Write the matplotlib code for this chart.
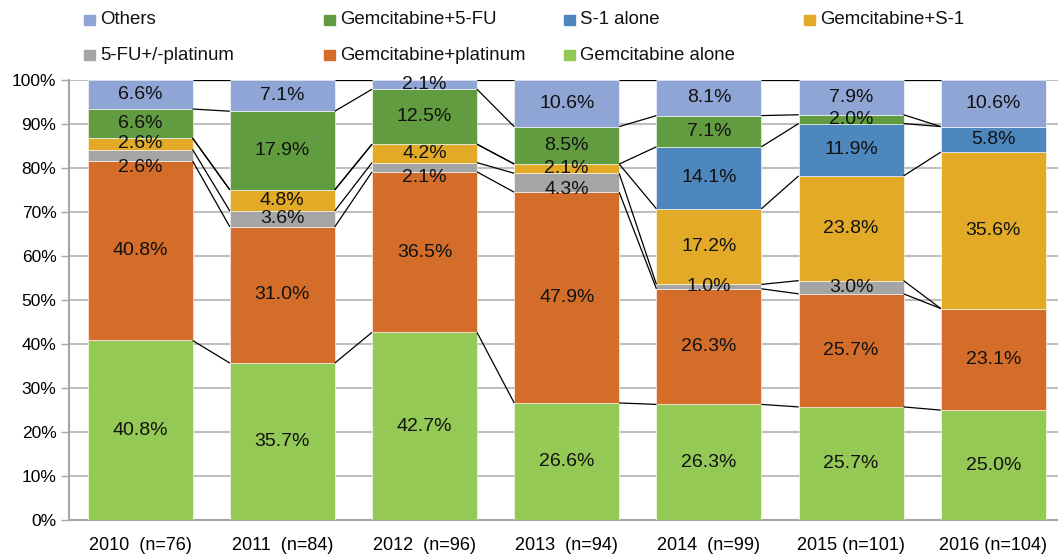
import numpy as np
import matplotlib.pyplot as plt
from matplotlib.patches import Rectangle

years = ['2010  (n=76)', '2011  (n=84)', '2012  (n=96)', '2013  (n=94)',
         '2014  (n=99)', '2015 (n=101)', '2016 (n=104)']

# bottom to top
series = ['Gemcitabine alone', 'Gemcitabine+platinum', '5-FU+/-platinum',
          'Gemcitabine+S-1', 'S-1 alone', 'Gemcitabine+5-FU', 'Others']
gem_alone = [40.8, 35.7, 42.7, 26.6, 26.3, 25.7, 25.0]
gem_plat = [40.8, 31.0, 36.5, 47.9, 26.3, 25.7, 23.1]
fu_plat = [2.6, 3.6, 2.1, 4.3, 1.0, 3.0, 0.0]
gem_s1 = [2.6, 4.8, 4.2, 2.1, 17.2, 23.8, 35.6]
s1_alone = [0.0, 0.0, 0.0, 0.0, 14.1, 11.9, 5.8]
gem_5fu = [6.6, 17.9, 12.5, 8.5, 7.1, 2.0, 0.0]
others = [6.6, 7.1, 2.1, 10.6, 8.1, 7.9, 10.6]

colors = ['#94C955', '#D46D2A', '#A5A5A5', '#E2AA27', '#4E87BD', '#629C40', '#8FA5D5']

data = np.array([gem_alone, gem_plat, fu_plat, gem_s1, s1_alone, gem_5fu, others])
# 100% stacked: normalise each year
pct = data / data.sum(axis=0) * 100
cum = np.cumsum(pct, axis=0)
bottoms = cum - pct

# small labels that sit a bit low so they don't collide (series, year): shift in %
label_shift = {(2, 0): -2.8, (2, 2): -2.3, (2, 3): -1.6}

font = ['Liberation Sans', 'DejaVu Sans']

fig = plt.figure(figsize=(10.58, 5.56), dpi=100)
ax = fig.add_axes([69 / 1058, 36 / 556, (1058 - 69) / 1058, 440 / 556])

x = np.arange(len(years))
w = 0.738
for k in range(len(series)):
    ax.bar(x, pct[k], w, bottom=bottoms[k], color=colors[k],
           edgecolor='white', linewidth=0.4, zorder=3)
    for i in range(len(years)):
        if data[k, i] > 0:
            yy = bottoms[k, i] + pct[k, i] / 2 + label_shift.get((k, i), 0)
            ax.text(x[i], yy, '%.1f%%' % data[k, i],
                    ha='center', va='center', fontsize=14, family=font,
                    color='#111111', zorder=5)

# series lines between bars
for k in range(len(series)):
    for i in range(len(years) - 1):
        ax.plot([x[i] + w / 2, x[i + 1] - w / 2], [cum[k, i], cum[k, i + 1]],
                color='black', linewidth=0.9, zorder=4,
                solid_capstyle='butt')

ax.set_xlim(-0.5, 6.455)
ax.set_ylim(0, 100)
ax.set_yticks(np.arange(0, 101, 10))
ax.set_yticklabels(['%d%%' % v for v in range(0, 101, 10)], family=font, fontsize=12.5)
ax.set_xticks(x)
ax.set_xticklabels(years, family=font, fontsize=13)
ax.tick_params(axis='x', length=0, pad=12)
ax.tick_params(axis='y', length=6, width=1, color='#A6A6A6', pad=3)
ax.grid(axis='y', color='#BFBFBF', linewidth=1.5, zorder=0)
for s in ['top', 'right']:
    ax.spines[s].set_visible(False)
for s in ['left', 'bottom']:
    ax.spines[s].set_color('#A6A6A6')
    ax.spines[s].set_linewidth(1.5)

# legend, laid out row by row like the original
legend_order = [6, 5, 4, 3, 2, 1, 0]
col_x = [84, 324, 564, 804]
row_y = [20, 55]
for n, k in enumerate(legend_order):
    r, c = divmod(n, 4)
    px, py = col_x[c], row_y[r]
    fig.add_artist(Rectangle((px / 1058, (556 - py - 5) / 556), 11 / 1058, 10 / 556,
                             transform=fig.transFigure, color=colors[k]))
    fig.text((px + 16) / 1058, (556 - py) / 556, series[k], ha='left', va='center',
             fontsize=13.4, family=font, color='#111111')

fig.savefig('out.png', dpi=100)
